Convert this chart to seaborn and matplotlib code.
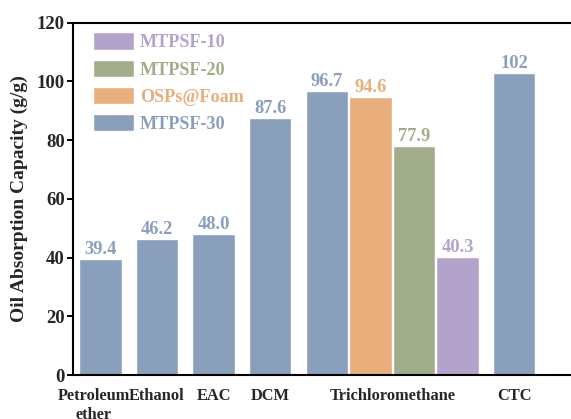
import matplotlib
matplotlib.use('Agg')
import matplotlib.pyplot as plt
import matplotlib.transforms as mtransforms
import seaborn as sns
import pandas as pd
import numpy as np

# one entry per bar, left to right
bar_solvent = ['Petroleum\nether', 'Ethanol', 'EAC', 'DCM',
               'Trichloromethane', 'Trichloromethane', 'Trichloromethane', 'Trichloromethane',
               'CTC']
bar_series = ['MTPSF-30', 'MTPSF-30', 'MTPSF-30', 'MTPSF-30',
              'MTPSF-30', 'OSPs@Foam', 'MTPSF-20', 'MTPSF-10',
              'MTPSF-30']
bar_values = [39.4, 46.2, 48.0, 87.6, 96.7, 94.6, 77.9, 40.3, 102.9]
bar_labels = ['39.4', '46.2', '48.0', '87.6', '96.7', '94.6', '77.9', '40.3', '102']

series_order = ['MTPSF-10', 'MTPSF-20', 'OSPs@Foam', 'MTPSF-30']
series_colors = ['#B3A3CA', '#A1AD89', '#E8AE7B', '#8A9FBC']
color_of = dict(zip(series_order, series_colors))

# x layout: bars of the same solvent sit side by side
step_single, step_inner, bar_w = 1.0, 0.77, 0.75
pos = []
x, prev = 0.0, None
for s in bar_solvent:
    if prev is not None:
        x += step_inner if s == prev else step_single
    pos.append(x)
    prev = s

df = pd.DataFrame({'solvent': bar_solvent, 'series': bar_series,
                   'value': bar_values, 'pos': pos})

sns.set_style('ticks')
plt.rcParams['font.family'] = ['Liberation Serif', 'DejaVu Serif']
plt.rcParams['font.weight'] = 'bold'
plt.rcParams['axes.labelweight'] = 'bold'

fig = plt.figure(figsize=(5.71, 4.19), dpi=100)
ax = fig.add_axes([0.1278, 0.105, 0.9006, 0.841])

sns.barplot(data=df, x='pos', y='value', hue='series', hue_order=series_order,
            palette=series_colors, saturation=1, native_scale=True, dodge=False,
            width=bar_w / step_inner, edgecolor='white', linewidth=1.0, ax=ax)

# value labels above bars
for p, v, lab, ser in zip(pos, bar_values, bar_labels, bar_series):
    ax.text(p, v + 0.3, lab, ha='center', va='bottom', fontsize=13.3,
            fontweight='bold', color=color_of[ser])

# category ticks at the centre of each solvent group
tick_names = list(dict.fromkeys(bar_solvent))
tick_pos = [df.loc[df.solvent == n, 'pos'].mean() for n in tick_names]
ax.set_xticks(tick_pos)
ax.set_xticklabels(tick_names, fontsize=11.8, fontweight='bold', linespacing=1.2)
ax.tick_params(axis='x', length=0, pad=9.5)
# the two-line label sits a little to the left in the original
shift = mtransforms.ScaledTranslation(-7 / 100, 0, fig.dpi_scale_trans)
first = ax.get_xticklabels()[0]
first.set_transform(first.get_transform() + shift)

ax.set_ylim(0, 120)
ax.set_yticks(np.arange(0, 121, 20))
ax.tick_params(axis='y', direction='out', length=4.5, width=1.4, labelsize=13.5,
               pad=1.5, color='black')
for t in ax.get_yticklabels():
    t.set_fontweight('bold')
ax.set_xlim(-0.486, 8.6)

ax.set_xlabel('')
ax.set_ylabel('Oil Absorption Capacity (g/g)', fontsize=14, fontweight='bold', labelpad=6)

for sp in ax.spines.values():
    sp.set_linewidth(1.5)
    sp.set_color('black')
    sp.set_visible(True)

handles, labels = ax.get_legend_handles_labels()
leg = ax.legend(handles, labels, loc='upper left', bbox_to_anchor=(0.038, 0.972),
                frameon=False, prop={'size': 13.1, 'weight': 'bold'},
                handlelength=2.3, handleheight=1.1, labelspacing=0.45,
                handletextpad=0.3, borderaxespad=0, borderpad=0)
for txt, lab in zip(leg.get_texts(), labels):
    txt.set_color(color_of[lab])

fig.savefig('out.png', dpi=100)
